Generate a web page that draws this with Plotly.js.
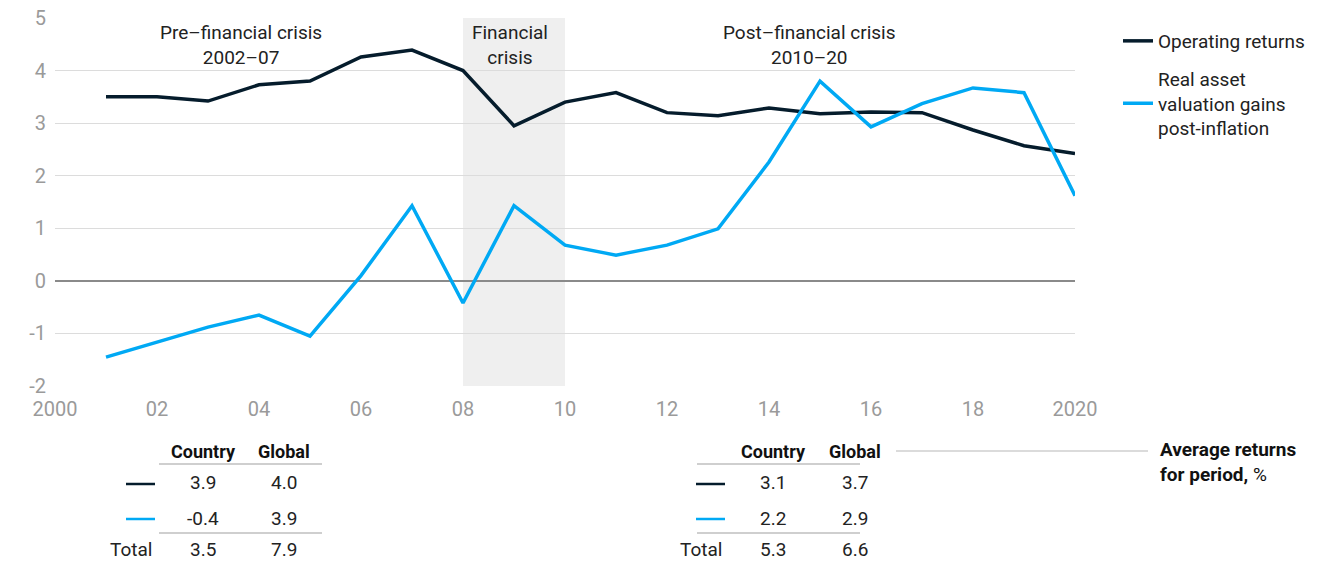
<!DOCTYPE html>
<html>
<head>
<meta charset="utf-8">
<script src="https://cdn.plot.ly/plotly-3.0.1.min.js"></script>
<style>html,body{margin:0;padding:0;background:#fff;}#chart{width:1330px;height:561px;}</style>
</head>
<body>
<div id="chart"></div>
<script>
// ---- data ----
const years = [2001,2002,2003,2004,2005,2006,2007,2008,2009,2010,2011,2012,2013,2014,2015,2016,2017,2018,2019,2020];
const operatingReturns = [3.50,3.50,3.42,3.73,3.80,4.26,4.39,4.00,2.95,3.40,3.58,3.20,3.14,3.29,3.18,3.21,3.20,2.87,2.57,2.42];
const valuationGains = [-1.45,-1.16,-0.88,-0.65,-1.05,0.10,1.43,-0.42,1.43,0.68,0.49,0.68,0.99,2.26,3.80,2.93,3.37,3.67,3.58,1.62];
const seriesNames = ['Operating returns', 'Real asset<br>valuation gains<br>post-inflation'];
const xTickVals = [2000,2002,2004,2006,2008,2010,2012,2014,2016,2018,2020];
const xTickText = ['2000','02','04','06','08','10','12','14','16','18','2020'];
const yTickVals = [-2,-1,0,1,2,3,4,5];
const yTickText = ['-2','-1','0','1','2','3','4','5'];
const crisisStart = 2008, crisisEnd = 2010;
const periodLabels = ['Pre–financial crisis<br>2002–07', 'Financial<br>crisis', 'Post–financial crisis<br>2010–20'];
const tableHeaders = ['Country', 'Global'];
const preCountry = ['3.9', '-0.4', '3.5'];
const preGlobal = ['4.0', '3.9', '7.9'];
const postCountry = ['3.1', '2.2', '5.3'];
const postGlobal = ['3.7', '2.9', '6.6'];
const totalLabel = 'Total';
const noteText = '<b>Average returns<br>for period,</b> %';

// ---- style ----
const DARK = '#051c2c', BLUE = '#00a9f4';
const FONT = 'Roboto, Arial, sans-serif';
const W = 1330, H = 561;
const M = {l:55, r:255, t:18, b:175};
const PW = W - M.l - M.r, PH = H - M.t - M.b;
const px = x => (x - M.l) / PW;
const py = y => (H - M.b - y) / PH;

const traces = [
  {x: years, y: operatingReturns, name: seriesNames[0], type: 'scatter', mode: 'lines',
   line: {color: DARK, width: 3.5}, legendgroup: 'a', hoverinfo: 'x+y'},
  {x: years, y: valuationGains, name: seriesNames[1], type: 'scatter', mode: 'lines',
   line: {color: BLUE, width: 3.5}, legendgroup: 'b', hoverinfo: 'x+y'}
];

const shapes = [
  {type: 'rect', xref: 'x', yref: 'paper', x0: crisisStart, x1: crisisEnd, y0: 0, y1: 1,
   fillcolor: '#efefef', line: {width: 0}, layer: 'below'}
];
const annotations = [];
const txt = (text, x, y, opts = {}) => annotations.push(Object.assign({
  text, xref: 'paper', yref: 'paper', x: px(x), y: py(y), showarrow: false,
  xanchor: 'center', yanchor: 'middle', font: {family: FONT, size: 18, color: '#222'}
}, opts));

// period labels
const periodX = [241, 510, 809];
periodLabels.forEach((t, i) => txt(t, periodX[i], 45, {font: {family: FONT, size: 19, color: '#222'}}));

// tables
function drawTable(x0, colX, dashX, country, global) {
  const rowsY = [482, 518, 549];
  txt('<b>' + tableHeaders[0] + '</b>', colX[0], 451, {font: {family: FONT, size: 18, color: '#111'}});
  txt('<b>' + tableHeaders[1] + '</b>', colX[1], 451, {font: {family: FONT, size: 18, color: '#111'}});
  shapes.push({type: 'line', xref: 'paper', yref: 'paper', x0: px(x0), x1: px(x0 + 163), y0: py(464), y1: py(464), line: {color: '#cfcfcf', width: 2}});
  shapes.push({type: 'line', xref: 'paper', yref: 'paper', x0: px(x0), x1: px(x0 + 163), y0: py(533), y1: py(533), line: {color: '#cfcfcf', width: 2}});
  shapes.push({type: 'line', xref: 'paper', yref: 'paper', x0: px(dashX), x1: px(dashX + 29), y0: py(484), y1: py(484), line: {color: DARK, width: 2.5}});
  shapes.push({type: 'line', xref: 'paper', yref: 'paper', x0: px(dashX), x1: px(dashX + 29), y0: py(519), y1: py(519), line: {color: BLUE, width: 2.5}});
  for (let r = 0; r < 3; r++) {
    txt(country[r], colX[0], rowsY[r], {font: {family: FONT, size: 19, color: '#222'}});
    txt(global[r], colX[1], rowsY[r], {font: {family: FONT, size: 19, color: '#222'}});
  }
  txt(totalLabel, dashX + 28, rowsY[2], {xanchor: 'right', font: {family: FONT, size: 19, color: '#222'}});
}
drawTable(159, [203, 284], 126, preCountry, preGlobal);
drawTable(697, [773, 855], 696, postCountry, postGlobal);
shapes.push({type: 'line', xref: 'paper', yref: 'paper', x0: px(896), x1: px(1148), y0: py(451), y1: py(451), line: {color: '#cfcfcf', width: 1.5}});
txt(noteText, 1158, 462, {xanchor: 'left', align: 'left', font: {family: FONT, size: 19, color: '#111'}});

const layout = {
  width: W, height: H, margin: M,
  paper_bgcolor: '#fff', plot_bgcolor: '#fff',
  font: {family: FONT, size: 18, color: '#222'},
  showlegend: true,
  legend: {x: px(1118), xanchor: 'left', y: py(22), yanchor: 'top', traceorder: 'grouped',
           tracegroupgap: 10, font: {family: FONT, size: 19, color: '#222'}, bgcolor: 'rgba(0,0,0,0)'},
  xaxis: {range: [2000, 2020], tickvals: xTickVals, ticktext: xTickText, showgrid: false,
          zeroline: false, showline: false, ticks: '', ticklabelstandoff: 9,
          tickfont: {family: FONT, size: 20, color: '#9a9a9a'}},
  yaxis: {range: [-2, 5], tickvals: yTickVals, ticktext: yTickText, showgrid: true, gridcolor: '#dcdcdc',
          gridwidth: 1, zeroline: true, zerolinecolor: '#8a8a8a', zerolinewidth: 1.5, showline: false,
          ticks: '', ticklabelstandoff: 8, tickfont: {family: FONT, size: 20, color: '#9a9a9a'}},
  shapes, annotations
};
Plotly.newPlot('chart', traces, layout, {displayModeBar: false, staticPlot: true});
</script>
</body>
</html>
